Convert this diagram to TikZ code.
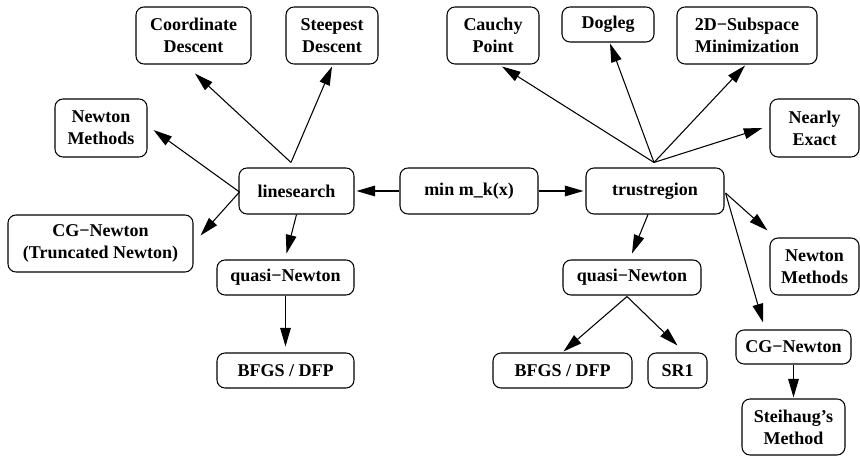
\documentclass[tikz,border=0pt]{standalone}
\usepackage{fontspec}
\setmainfont{Liberation Serif}
\usetikzlibrary{arrows.meta}
\begin{document}
\begin{tikzpicture}[x=0.75pt,y=-0.75pt,
  box/.style={draw, line width=0.8pt, rounded corners=6pt, inner sep=0pt, align=center,
    font=\bfseries\fontsize{13.5}{16.5}\selectfont},
  arr/.style={line width=0.8pt, -{Triangle[length=14pt,width=8pt]}}]
\useasboundingbox (0,0) rectangle (860,456);
% nodes
\node[box, minimum width=86.25pt, minimum height=42.75pt] (cd)  at (193.5,35.5) {Coordinate\\Descent};
\node[box, minimum width=69pt,    minimum height=42.75pt] (sd)  at (332,35.5)   {Steepest\\Descent};
\node[box, minimum width=69pt,    minimum height=43.5pt]  (nml) at (101,128)    {Newton\\Methods};
\node[box, minimum width=86.25pt, minimum height=34.5pt]  (ls)  at (296.5,191)  {linesearch};
\node[box, minimum width=103.5pt, minimum height=34.5pt]  (mn)  at (469,191)    {min m\_k(x)};
\node[box, minimum width=138.75pt,minimum height=42.75pt] (cgl) at (100.5,243.5){CG−Newton\\(Truncated Newton)};
\node[box, minimum width=102.75pt,minimum height=26.25pt] (qnl) at (285.5,277.5){quasi−Newton};
\node[box, minimum width=102.75pt,minimum height=26.25pt] (bfl) at (285.5,370.5){BFGS / DFP};
\node[box, minimum width=69pt,    minimum height=42.75pt] (cp)  at (493,35.5)   {Cauchy\\Point};
\node[box, minimum width=69pt,    minimum height=26.25pt] (dl)  at (608,24.5)   {Dogleg};
\node[box, minimum width=105pt,   minimum height=42.75pt] (sub) at (747,35.5)   {2D−Subspace\\Minimization};
\node[box, minimum width=66.75pt, minimum height=43.5pt]  (ne)  at (814.5,128)  {Nearly\\Exact};
\node[box, minimum width=103.5pt, minimum height=34.5pt]  (tr)  at (655,191)    {trustregion};
\node[box, minimum width=103.5pt, minimum height=26.25pt] (qnr) at (632,277.5)  {quasi−Newton};
\node[box, minimum width=66.75pt, minimum height=42.75pt] (nmr) at (814.5,266.5){Newton\\Methods};
\node[box, minimum width=104.25pt,minimum height=26.25pt] (bfr) at (562.5,370.5){BFGS / DFP};
\node[box, minimum width=44.25pt, minimum height=26.25pt] (sr)  at (677.5,370.5){SR1};
\node[box, minimum width=86.25pt, minimum height=25.5pt]  (cgr) at (793.5,347)  {CG−Newton};
\node[box, minimum width=77.25pt, minimum height=42pt]    (st)  at (793.5,427)  {Steihaug’s\\Method};
% junction points
\coordinate (lsT) at ([shift={(-5.5,-5)}]ls.north);
\coordinate (trT) at ([shift={(-1,-5)}]tr.north);
\coordinate (lsW) at ([shift={(1,1)}]ls.west);
\coordinate (trE) at ([shift={(1,2)}]tr.east);
% edges
\draw[arr] (mn.west) -- ([shift={(2,0)}]ls.east);
\draw[arr] (mn.east) -- ([shift={(-2,0)}]tr.west);
\draw[arr] (lsT) -- ([shift={(1.5,9)}]cd.south);
\draw[arr] (lsT) -- ([shift={(0,2)}]sd.south);
\draw[arr] (lsW) -- ([shift={(6,2)}]nml.east);
\draw[arr] (lsW) -- ([shift={(7,-8)}]cgl.east);
\draw[arr] (ls.south) -- ([shift={(1,-6)}]qnl.north);
\draw[arr] (qnl.south) -- ([shift={(0,-6)}]bfl.north);
\draw[arr] (trT) -- ([shift={(9,2)}]cp.south);
\draw[arr] (trT) -- ([shift={(2,1)}]dl.south);
\draw[arr] (trT) -- ([shift={(-2,1)}]sub.south);
\draw[arr] (trT) -- ([shift={(-7,0)}]ne.west);
\draw[arr] (trE) -- ([shift={(-2,-7)}]nmr.north west);
\draw[arr] (trE) -- ([shift={(-30.5,-7)}]cgr.north);
\draw[arr] ([shift={(-7,0)}]tr.south) -- ([shift={(0,-6)}]qnr.north);
\draw[arr] ([shift={(-5,1)}]qnr.south) -- ([shift={(1,-1)}]bfr.north);
\draw[arr] ([shift={(-5,1)}]qnr.south) -- ([shift={(0,-7)}]sr.north);
\draw[arr] (cgr.south) -- ([shift={(0,-1)}]st.north);
\end{tikzpicture}
\end{document}
